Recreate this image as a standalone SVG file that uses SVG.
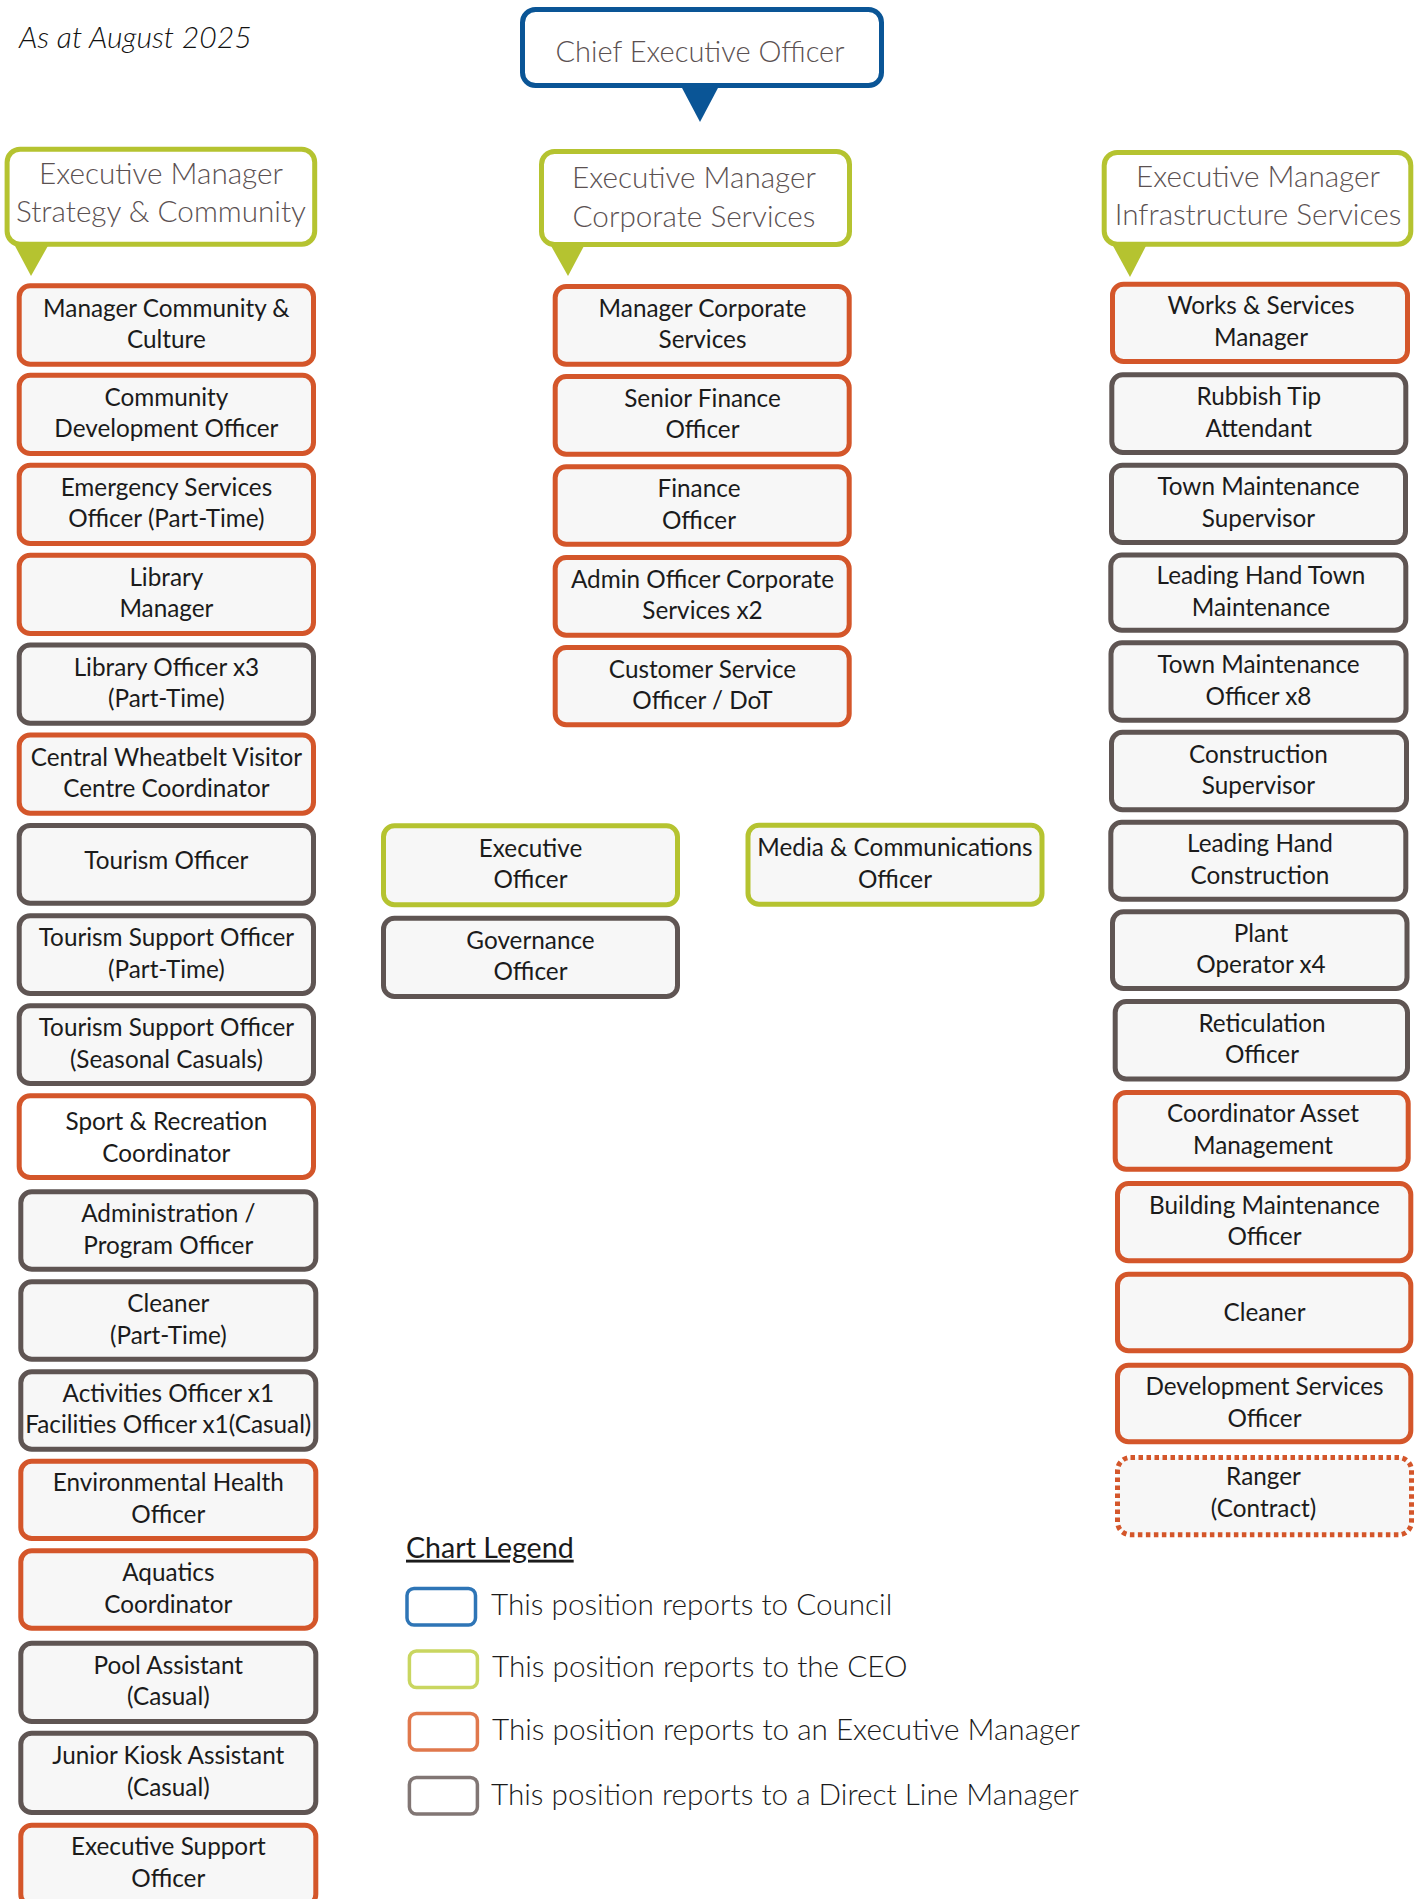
<svg xmlns="http://www.w3.org/2000/svg" width="1423" height="1899" viewBox="0 0 1423 1899">
<defs>
<style>
.b{fill:#f7f7f7;stroke-width:5}
.w{fill:#ffffff}
.o{stroke:#d4562a}
.g{stroke:#5f5553}
.l{stroke:#b5c330}
.hd{fill:#ffffff;stroke:#b5c330;stroke-width:5}
.ceo{fill:#ffffff;stroke:#0a5596;stroke-width:5}
.t{font-family:Lato,'Liberation Sans',sans-serif;font-size:24.3px;fill:#1b1b1b;text-anchor:middle}
.h{font-family:Lato,'Liberation Sans',sans-serif;font-weight:300;font-size:29.7px;fill:#5b5152;text-anchor:middle}
.lg{font-family:Lato,'Liberation Sans',sans-serif;font-weight:300;font-size:29.7px;fill:#1b1b1b}
.lb{fill:#ffffff;stroke-width:3.5}
.dot{stroke-dasharray:4.5 3.5}
</style>
</defs>
<rect width="1423" height="1899" fill="#ffffff"/>
<text x="19" y="48.3" style="font-family:Lato,'Liberation Sans',sans-serif;font-style:italic;font-weight:300;font-size:30.2px;fill:#111">As at August 2025</text>

<g id="connectors">
<polygon points="681,86 719,86 700,122" fill="#0a5596"/>
<polygon points="14,244 49,244 31,276" fill="#b5c330"/>
<polygon points="550,244 585,244 568,276" fill="#b5c330"/>
<polygon points="1112,244 1147,244 1130,277" fill="#b5c330"/>
</g>

<g id="ceo"><rect class="ceo" x="522.5" y="9.5" width="359" height="76" rx="13"/><text class="h" x="700" y="61.7" style="font-size:29px">Chief Executive Officer</text></g>

<g id="em-strategy"><rect class="hd" x="7.1" y="149.2" width="307.6" height="95" rx="13"/><text class="h" x="161" y="184">Executive Manager</text><text class="h" x="161" y="221.7">Strategy &amp; Community</text></g>
<g id="em-corporate"><rect class="hd" x="541.5" y="151.5" width="308" height="93" rx="13"/><text class="h" x="694" y="188.3">Executive Manager</text><text class="h" x="694" y="226.7">Corporate Services</text></g>
<g id="em-infrastructure"><rect class="hd" x="1104.2" y="152.5" width="306.6" height="91.7" rx="13"/><text class="h" x="1258" y="186.7">Executive Manager</text><text class="h" x="1258" y="225">Infrastructure Services</text></g>

<!-- Left column -->
<g id="l01"><rect class="b o" x="19.2" y="285.8" width="294.3" height="78.4" rx="11"/><text class="t" x="166.4" y="316.5">Manager Community &amp;</text><text class="t" x="166.4" y="348">Culture</text></g>
<g id="l02"><rect class="b o" x="19.2" y="375.2" width="294.3" height="78.3" rx="11"/><text class="t" x="166.4" y="405.8">Community</text><text class="t" x="166.4" y="437.3">Development Officer</text></g>
<g id="l03"><rect class="b o" x="19.2" y="465.2" width="294.3" height="78.3" rx="11"/><text class="t" x="166.4" y="495.8">Emergency Services</text><text class="t" x="166.4" y="527.3">Officer (Part-Time)</text></g>
<g id="l04"><rect class="b o" x="19.2" y="555.2" width="294.3" height="78.3" rx="11"/><text class="t" x="166.4" y="585.8">Library</text><text class="t" x="166.4" y="617.3">Manager</text></g>
<g id="l05"><rect class="b g" x="19.2" y="645" width="294.3" height="78.2" rx="11"/><text class="t" x="166.4" y="675.6">Library Officer x3</text><text class="t" x="166.4" y="707.1">(Part-Time)</text></g>
<g id="l06"><rect class="b o" x="19.2" y="735" width="294.3" height="78.2" rx="11"/><text class="t" x="166.4" y="765.6">Central Wheatbelt Visitor</text><text class="t" x="166.4" y="797.1">Centre Coordinator</text></g>
<g id="l07"><rect class="b g" x="19.2" y="825.4" width="294.3" height="77.8" rx="11"/><text class="t" x="166.4" y="869.3">Tourism Officer</text></g>
<g id="l08"><rect class="b g" x="19.2" y="915.7" width="294.3" height="77.8" rx="11"/><text class="t" x="166.4" y="946.1">Tourism Support Officer</text><text class="t" x="166.4" y="977.6">(Part-Time)</text></g>
<g id="l09"><rect class="b g" x="19.2" y="1005.7" width="294.3" height="77.8" rx="11"/><text class="t" x="166.4" y="1036.1">Tourism Support Officer</text><text class="t" x="166.4" y="1067.6">(Seasonal Casuals)</text></g>
<g id="l10"><rect class="b w o" x="19.2" y="1095.7" width="294.3" height="81.8" rx="11"/><text class="t" x="166.4" y="1129.5">Sport &amp; Recreation</text><text class="t" x="166.4" y="1162">Coordinator</text></g>
<g id="l11"><rect class="b g" x="20.8" y="1191.8" width="295" height="77.4" rx="11"/><text class="t" x="168.3" y="1222">Administration /</text><text class="t" x="168.3" y="1253.5">Program Officer</text></g>
<g id="l12"><rect class="b g" x="20.8" y="1281.8" width="295" height="77.4" rx="11"/><text class="t" x="168.3" y="1312">Cleaner</text><text class="t" x="168.3" y="1343.5">(Part-Time)</text></g>
<g id="l13"><rect class="b g" x="20.8" y="1371.8" width="295" height="77.4" rx="11"/><text class="t" x="168.3" y="1401.5">Activities Officer x1</text><text class="t" x="168.3" y="1433.3">Facilities Officer x1(Casual)</text></g>
<g id="l14"><rect class="b o" x="20.8" y="1461.2" width="295" height="77.3" rx="11"/><text class="t" x="168.3" y="1491.4">Environmental Health</text><text class="t" x="168.3" y="1522.9">Officer</text></g>
<g id="l15"><rect class="b o" x="20.8" y="1550.8" width="295" height="77.4" rx="11"/><text class="t" x="168.3" y="1581">Aquatics</text><text class="t" x="168.3" y="1612.5">Coordinator</text></g>
<g id="l16"><rect class="b g" x="20.8" y="1643.2" width="295" height="78.3" rx="11"/><text class="t" x="168.3" y="1673.9">Pool Assistant</text><text class="t" x="168.3" y="1705.4">(Casual)</text></g>
<g id="l17"><rect class="b g" x="20.8" y="1733.2" width="295" height="79.3" rx="11"/><text class="t" x="168.3" y="1764.4">Junior Kiosk Assistant</text><text class="t" x="168.3" y="1795.9">(Casual)</text></g>
<g id="l18"><rect class="b o" x="20.8" y="1825.2" width="295" height="80" rx="11"/><text class="t" x="168.3" y="1855.4">Executive Support</text><text class="t" x="168.3" y="1886.9">Officer</text></g>

<!-- Middle column -->
<g id="m01"><rect class="b o" x="555.2" y="286.5" width="294" height="77.7" rx="11"/><text class="t" x="702.5" y="316.8">Manager Corporate</text><text class="t" x="702.5" y="348.3">Services</text></g>
<g id="m02"><rect class="b o" x="555.2" y="376.5" width="294" height="77.7" rx="11"/><text class="t" x="702.5" y="406.8">Senior Finance</text><text class="t" x="702.5" y="438.3">Officer</text></g>
<g id="m03"><rect class="b o" x="555.2" y="466.8" width="294" height="77.4" rx="11"/><text class="t" x="699" y="497">Finance</text><text class="t" x="699" y="528.5">Officer</text></g>
<g id="m04"><rect class="b o" x="555.2" y="557.5" width="294" height="77.7" rx="11"/><text class="t" x="702.5" y="587.8">Admin Officer Corporate</text><text class="t" x="702.5" y="619.3">Services x2</text></g>
<g id="m05"><rect class="b o" x="555.2" y="647.5" width="294" height="77.3" rx="11"/><text class="t" x="702.5" y="677.6">Customer Service</text><text class="t" x="702.5" y="709.1">Officer / DoT</text></g>

<g id="m-exec-officer"><rect class="b l" x="383.5" y="825.8" width="294" height="79" rx="11"/><text class="t" x="530.5" y="856.8">Executive</text><text class="t" x="530.5" y="888.3">Officer</text></g>
<g id="m-governance"><rect class="b g" x="383.5" y="918.2" width="294" height="78.3" rx="11"/><text class="t" x="530.5" y="948.8">Governance</text><text class="t" x="530.5" y="980.3">Officer</text></g>
<g id="m-media"><rect class="b l" x="748" y="825.2" width="294" height="79" rx="11"/><text class="t" x="895" y="856.2">Media &amp; Communications</text><text class="t" x="895" y="887.7">Officer</text></g>

<!-- Right column -->
<g id="r01"><rect class="b o" x="1112.5" y="284.2" width="295" height="77.3" rx="11"/><text class="t" x="1261" y="314.4">Works &amp; Services</text><text class="t" x="1261" y="345.9">Manager</text></g>
<g id="r02"><rect class="b g" x="1111.8" y="374.8" width="294" height="77.7" rx="11"/><text class="t" x="1258.8" y="405.2">Rubbish Tip</text><text class="t" x="1258.8" y="436.7">Attendant</text></g>
<g id="r03"><rect class="b g" x="1111.5" y="465.2" width="294" height="77.3" rx="11"/><text class="t" x="1258.5" y="495.4">Town Maintenance</text><text class="t" x="1258.5" y="526.9">Supervisor</text></g>
<g id="r04"><rect class="b g" x="1110.8" y="555.1" width="295" height="75.2" rx="11"/><text class="t" x="1261" y="584.2">Leading Hand Town</text><text class="t" x="1261" y="615.7">Maintenance</text></g>
<g id="r05"><rect class="b g" x="1111" y="642.7" width="295" height="77.5" rx="11"/><text class="t" x="1258.5" y="673">Town Maintenance</text><text class="t" x="1258.5" y="704.5">Officer x8</text></g>
<g id="r06"><rect class="b g" x="1111.5" y="732.3" width="295" height="77.5" rx="11"/><text class="t" x="1258.5" y="762.5">Construction</text><text class="t" x="1258.5" y="794">Supervisor</text></g>
<g id="r07"><rect class="b g" x="1110.8" y="822.2" width="295" height="77.1" rx="11"/><text class="t" x="1260" y="852.3">Leading Hand</text><text class="t" x="1260" y="883.8">Construction</text></g>
<g id="r08"><rect class="b g" x="1112.5" y="911.7" width="294.5" height="76.8" rx="11"/><text class="t" x="1261" y="941.6">Plant</text><text class="t" x="1261" y="973.1">Operator x4</text></g>
<g id="r09"><rect class="b g" x="1115.2" y="1001.6" width="292.3" height="77.4" rx="11"/><text class="t" x="1262" y="1031.8">Reticulation</text><text class="t" x="1262" y="1063.3">Officer</text></g>
<g id="r10"><rect class="b o" x="1115.2" y="1092.5" width="293" height="76.7" rx="11"/><text class="t" x="1263" y="1122.4">Coordinator Asset</text><text class="t" x="1263" y="1153.9">Management</text></g>
<g id="r11"><rect class="b o" x="1117.5" y="1183.5" width="293.3" height="77.3" rx="11"/><text class="t" x="1264.5" y="1213.7">Building Maintenance</text><text class="t" x="1264.5" y="1245.2">Officer</text></g>
<g id="r12"><rect class="b o" x="1117.5" y="1274.2" width="293.3" height="76.6" rx="11"/><text class="t" x="1264.5" y="1320.5">Cleaner</text></g>
<g id="r13"><rect class="b o" x="1117.5" y="1365.2" width="293.3" height="76.6" rx="11"/><text class="t" x="1264.5" y="1395">Development Services</text><text class="t" x="1264.5" y="1426.5">Officer</text></g>
<g id="r14"><rect class="b o dot" x="1117.5" y="1457.5" width="294" height="77.3" rx="13"/><text class="t" x="1263.5" y="1485">Ranger</text><text class="t" x="1263.5" y="1516.7">(Contract)</text></g>

<!-- Legend -->
<g id="legend">
<text class="lg" x="406" y="1557.7" style="font-weight:400;font-size:28.6px;text-decoration:underline">Chart Legend</text>
<rect class="lb" x="407" y="1588.5" width="68.5" height="36.5" rx="7" stroke="#2e75b6"/>
<text class="lg" x="491" y="1615">This position reports to Council</text>
<rect class="lb" x="409.4" y="1651" width="68" height="36.5" rx="7" stroke="#c9d660"/>
<text class="lg" x="492" y="1676.7">This position reports to the CEO</text>
<rect class="lb" x="409.4" y="1713.5" width="68" height="36.5" rx="7" stroke="#e0784c"/>
<text class="lg" x="492" y="1740">This position reports to an Executive Manager</text>
<rect class="lb" x="409.4" y="1777.5" width="68" height="36.5" rx="7" stroke="#817674"/>
<text class="lg" x="491" y="1805">This position reports to a Direct Line Manager</text>
</g>
</svg>
